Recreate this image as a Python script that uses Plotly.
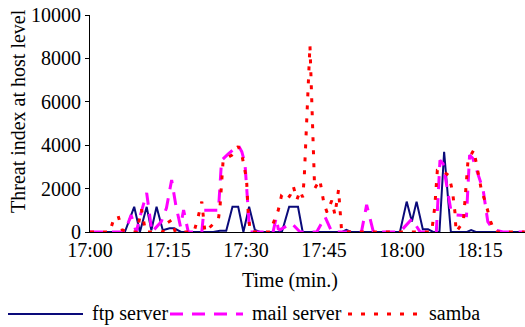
import plotly.graph_objects as go

# Time axis: minutes after 17:00
tick_vals = [0, 15, 30, 45, 60, 75]
tick_text = ["17:00", "17:15", "17:30", "17:45", "18:00", "18:15"]
y_ticks = [0, 2000, 4000, 6000, 8000, 10000]
y_tick_text = ["0", "2000", "4000", "6000", "8000", "10000"]

# ftp server threat index
ftp_t = [0, 6.7, 8.5, 9.6, 10.9, 11.8, 12.8, 14.0, 15.3, 16.2, 17.5, 23.7, 25.0, 26.2,
         27.4, 28.5, 29.5, 30.6, 31.7, 32.7, 36.9, 38.3, 40.0, 40.9, 48.5, 49.3, 50.2,
         59.6, 60.9, 61.9, 62.8, 64.0, 65.0, 66.0, 67.2, 68.1, 69.4, 72.5, 73.3, 74.2, 83.6]
ftp_v = [0, 0, 1160, 0, 1160, 80, 1160, 80, 170, 170, 0, 0, 60, 60,
         1160, 1160, 0, 1160, 100, 0, 0, 1160, 1160, 0, 0, 100, 0,
         0, 1400, 480, 1400, 130, 130, 0, 0, 3700, 0, 0, 90, 0, 0]

# mail server threat index
mail_t = [0, 6.7, 7.9, 8.9, 9.6, 10.9, 11.9, 12.8, 13.7, 14.7, 15.7, 16.5, 17.4, 18.0,
          18.9, 21.5, 21.9, 24.7, 25.3, 26.6, 27.3, 28.5, 29.2, 29.8, 30.3, 30.7,
          35.2, 35.8, 36.2, 36.5, 38.8, 40.4, 43.6, 45.2, 46.5, 52.2, 53.2, 54.5,
          59.6, 61.9, 63.5, 66.6, 67.3, 67.9, 69.4, 70.5, 72.4, 73.0, 73.6, 74.6,
          75.6, 76.5, 77.5, 79.4, 83.6]
mail_v = [0, 0, 780, 0, 700, 1800, 0, 250, 470, 1100, 2400, 1240, 250, 1010,
          0, 0, 1000, 1000, 3300, 3600, 3750, 4000, 3700, 3150, 1450, 0,
          0, 650, 150, 100, 400, 0, 0, 700, 0, 0, 1250, 0,
          0, 600, 0, 0, 3300, 3150, 1000, 780, 750, 3550, 3400, 2700,
          1950, 470, 120, 0, 0]

# samba threat index
samba_t = [0, 3.8, 4.5, 5.4, 6.2, 7.3, 9.0, 9.9, 10.7, 11.5, 14.0, 14.7, 15.7, 16.4,
           20.0, 20.8, 21.5, 22.1, 24.7, 25.0, 25.3, 25.6, 26.3, 27.3, 27.9, 28.5,
           29.2, 30.1, 30.4, 30.8, 34.6, 34.9, 36.2, 36.8, 37.8, 38.5, 39.1, 39.8,
           40.4, 40.9, 41.2, 42.3, 43.2, 43.7, 44.2, 45.0, 45.6, 46.5, 47.1, 47.8,
           48.4, 65.7, 66.3, 66.8, 67.4, 69.0, 69.7, 70.2, 70.4, 71.8, 72.3, 72.7,
           73.8, 75.3, 76.0, 77.1, 77.8, 83.6]
samba_v = [0, 0, 550, 750, 100, 0, 0, 1050, 0, 0, 0, 400, 550, 0,
           0, 700, 1400, 0, 600, 1150, 2250, 3300, 3400, 3550, 3700, 3950,
           3550, 2450, 1000, 0, 0, 200, 1000, 1650, 1450, 1700, 2100, 1500,
           1900, 1600, 2500, 8600, 2000, 2200, 2400, 1300, 900, 1450, 800, 1950,
           0, 0, 1150, 2850, 2900, 2600, 1900, 870, 0, 470, 1940, 3320,
           3780, 1900, 1400, 450, 0, 0]

navy = "#0a0a7a"
magenta = "#ff00ff"
red = "#ff0000"
serif = "Liberation Serif"

# plot-area pixel geometry
L, T, B, W, H = 90, 15, 95, 525, 327
plot_w = W - L
plot_h = H - T - B


def px_x(x):
    return (x - L) / plot_w


def px_y(y):
    return (H - B - y) / plot_h


fig = go.Figure()
fig.add_trace(go.Scatter(x=ftp_t, y=ftp_v, mode="lines", name="ftp server",
                         line=dict(color=navy, width=2)))
fig.add_trace(go.Scatter(x=mail_t, y=mail_v, mode="lines", name="mail server",
                         line=dict(color=magenta, width=3, dash="13px,9px")))
fig.add_trace(go.Scatter(x=samba_t, y=samba_v, mode="lines", name="samba",
                         line=dict(color=red, width=3, dash="4px,9px")))

# legend row below the axis title
legend_items = [("ftp server", navy, 2, "solid", 8, 83, 90),
                ("mail server", magenta, 3, "13px,9px", 170, 243, 250),
                ("samba", red, 3, "4px,9px", 348, 420, 427)]
shapes = []
annotations = []
for label, color, width, dash, x0, x1, xt in legend_items:
    shapes.append(dict(type="line", xref="paper", yref="paper",
                       x0=px_x(x0), x1=px_x(x1), y0=px_y(314), y1=px_y(314),
                       line=dict(color=color, width=width, dash=dash)))
    annotations.append(dict(text=label, xref="paper", yref="paper",
                            x=px_x(xt), y=px_y(313), xanchor="left", yanchor="middle",
                            showarrow=False, font=dict(family=serif, size=20, color="black")))

annotations.append(dict(text="Time (min.)", xref="paper", yref="paper",
                        x=px_x(290), y=px_y(280), xanchor="center", yanchor="middle",
                        showarrow=False, font=dict(family=serif, size=20, color="black")))
annotations.append(dict(text="Threat index at host level", xref="paper", yref="paper",
                        x=px_x(18), y=px_y(111), xanchor="center", yanchor="middle",
                        textangle=-90, showarrow=False,
                        font=dict(family=serif, size=20, color="black")))

fig.update_layout(
    width=W, height=H,
    margin=dict(l=L, r=0, t=T, b=B, pad=0),
    paper_bgcolor="white", plot_bgcolor="white",
    showlegend=False,
    shapes=shapes,
    annotations=annotations,
    font=dict(family=serif, size=20, color="black"),
)
fig.update_xaxes(range=[0, plot_w / 5.2], tickvals=tick_vals, ticktext=tick_text,
                 showgrid=False, zeroline=False, showline=True, linecolor="black",
                 linewidth=1, ticks="", tickfont=dict(family=serif, size=20, color="black"))
fig.update_yaxes(range=[0, 10000], tickvals=y_ticks, ticktext=y_tick_text,
                 showgrid=False, zeroline=False,
                 showline=True, linecolor="black", linewidth=1, ticks="outside",
                 ticklen=4, tickcolor="black",
                 tickfont=dict(family=serif, size=20, color="black"))

fig.write_html("out.html")
